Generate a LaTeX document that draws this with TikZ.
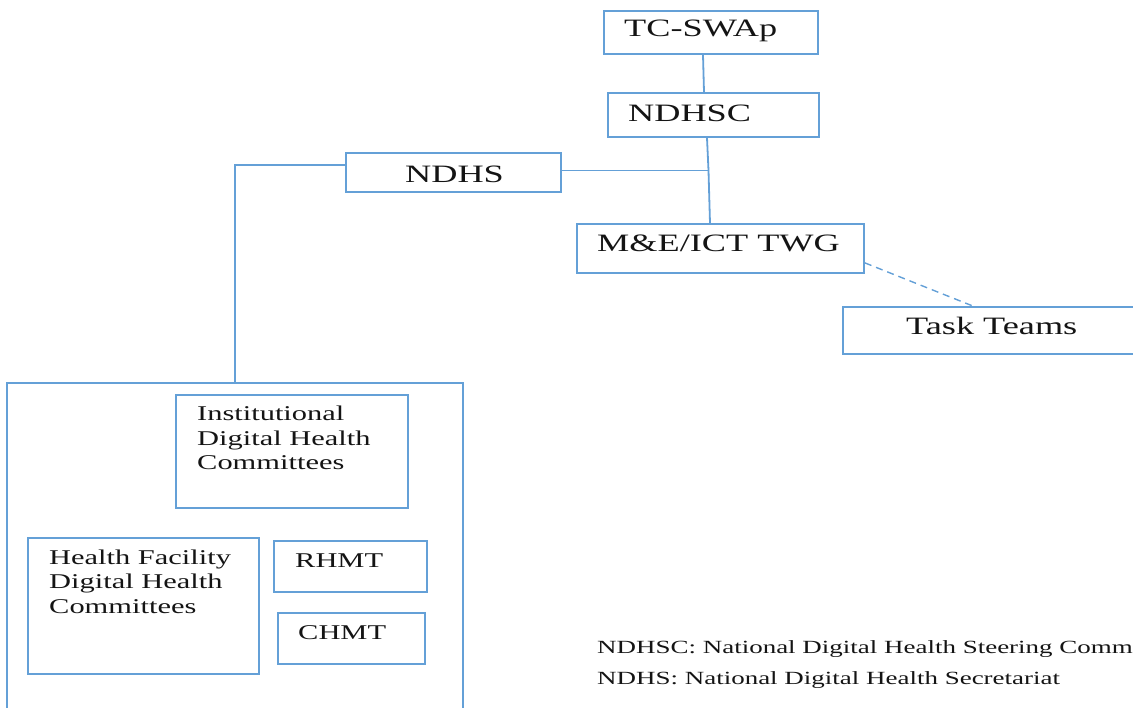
\documentclass[tikz,border=0pt]{standalone}
\usepackage{fontspec}
\setmainfont{Liberation Serif}[FakeStretch=1.45]
\definecolor{boxblue}{RGB}{100,160,215}
\definecolor{ink}{RGB}{20,20,20}
\tikzset{
  box/.style={draw=boxblue, line width=1.8pt, inner sep=0pt, fill=none},
  link/.style={draw=boxblue, line width=1.8pt},
  txt/.style={inner sep=0pt, anchor=base west, text=ink},
  big/.style={txt, font=\fontsize{25}{29}\selectfont},
  mid/.style={txt, font=\fontsize{21}{24}\selectfont},
  small/.style={txt, font=\fontsize{18.6}{21}\selectfont},
}
\begin{document}
\begin{tikzpicture}[x=1pt, y=-1pt]
\useasboundingbox (0,0) rectangle (1133,708);
% boxes
\node[box, minimum width=214pt, minimum height=43pt] (tcswap) at (711,32.5) {};
\node[box, minimum width=211pt, minimum height=44pt] (ndhsc) at (713.5,115) {};
\node[box, minimum width=215pt, minimum height=39pt] (ndhs) at (453.5,172.5) {};
\node[box, minimum width=287pt, minimum height=49pt] (metwg) at (720.5,248.5) {};
\node[box, minimum width=302pt, minimum height=47pt] (task) at (994,330.5) {};
\node[box, minimum width=456pt, minimum height=337pt] (bigbox) at (235,551.5) {};
\node[box, minimum width=232pt, minimum height=113pt] (inst) at (292,451.5) {};
\node[box, minimum width=231pt, minimum height=136pt] (hf) at (143.5,606) {};
\node[box, minimum width=153pt, minimum height=51pt] (rhmt) at (350.5,566.5) {};
\node[box, minimum width=147pt, minimum height=51pt] (chmt) at (351.5,638.5) {};
% connectors
\coordinate (j) at (708.5,170.5);
\draw[link] ([xshift=-8pt]tcswap.south) -- ([xshift=-9.5pt]ndhsc.north);
\draw[link] ([xshift=-6.5pt]ndhsc.south) -- (j) -- ([xshift=-10.5pt]metwg.north);
\draw[link] ([yshift=2pt]ndhs.east) -- (j);
\draw[link] ([yshift=7.5pt]ndhs.west) -| (bigbox.north);
\draw[link, dashed, line width=1.4pt, dash pattern=on 7pt off 5pt] ([yshift=11pt]metwg.south east) -- ([xshift=-21pt]task.north);
% texts
\node[big] (t1) at (624,37) {TC-SWAp};
\node[big] (t2) at (628,122) {NDHSC};
\node[big] (t3) at (405,183) {NDHS};
\node[big] (t4) at (597,252) {M\&E/ICT TWG};
\node[big] (t5) at (906,335) {Task Teams};
\node[mid] (i1) at (197,421) {Institutional};
\node[mid] (i2) at (197,446) {Digital Health};
\node[mid] (i3) at (197,470) {Committees};
\node[mid] (h1) at (49,564) {Health Facility};
\node[mid] (h2) at (49,588) {Digital Health};
\node[mid] (h3) at (49,613) {Committees};
\node[mid] (r1) at (295,567) {RHMT};
\node[mid] (c1) at (298,639) {CHMT};
\node[small] (l1) at (597,653) {NDHSC: National Digital Health Steering Comm};
\node[small] (l2) at (597,684) {NDHS: National Digital Health Secretariat};
\end{tikzpicture}
\end{document}
